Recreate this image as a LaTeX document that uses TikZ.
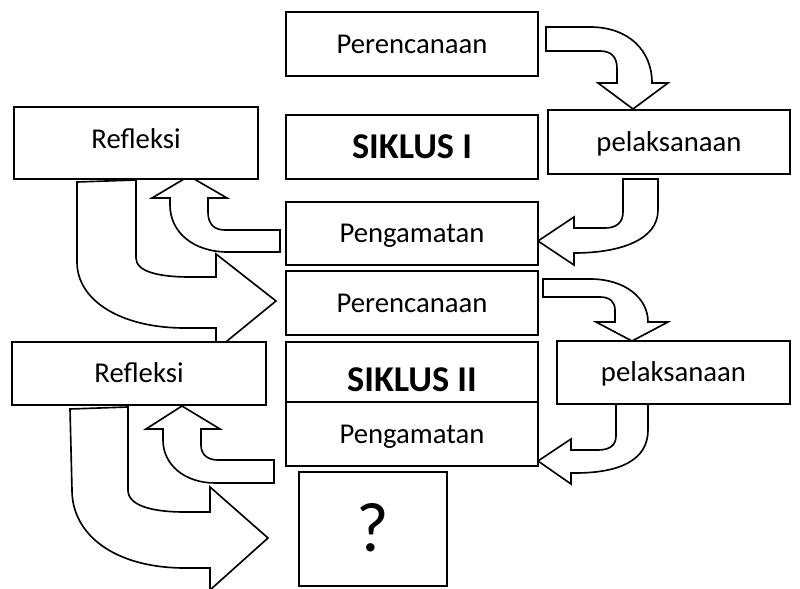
\documentclass[tikz,border=0pt]{standalone}
\usepackage{fontspec}
\setmainfont{Carlito}
\begin{document}
\begin{tikzpicture}[x=0.03cm,y=-0.03cm,
  box/.style={draw=black, fill=white, line width=1.4pt, inner sep=0pt,
    font=\fontsize{24.5}{28}\selectfont, text depth=0pt, text height=15.8pt},
  boldtxt/.style={font=\fontsize{31}{36}\selectfont\bfseries, text height=20pt},
  arr/.style={draw=black, fill=white, line width=1.4pt, line join=miter}]
\useasboundingbox (0,0) rectangle (800,589);
\clip (0,0) rectangle (800,589);
\fill[white] (0,0) rectangle (800,589);

% Arrow A: Perencanaan -> pelaksanaan (cycle I)
\draw[arr] (546,27) -- (590,27) .. controls (628,27) and (652,50) .. (652,83)
  -- (668,83) -- (633,109) -- (598,83) -- (617,83) -- (617,68)
  .. controls (617,57) and (611,51) .. (600,51) -- (546,51) -- cycle;
% Arrow B: pelaksanaan -> Pengamatan
\draw[arr] (623,179) -- (658,179) -- (658,210) .. controls (658,240) and (620,253) .. (574,253)
  -- (574,265) -- (538,241) -- (574,217) -- (574,228) -- (605,228)
  .. controls (617,228) and (623,222) .. (623,212) -- cycle;
% Arrow C: Pengamatan -> Refleksi
\draw[arr] (280,230) -- (280,252) -- (228,252) .. controls (193,252) and (170,232) .. (170,205)
  -- (170,198) -- (152,198) -- (189,176) -- (227,198) -- (208,198) -- (208,212)
  .. controls (208,224) and (214,230) .. (225,230) -- cycle;
% Arrow D: Refleksi -> Perencanaan (cycle II)
\draw[arr] (77,182) -- (136,180) -- (136,258) .. controls (136,272) and (160,277) .. (190,277)
  -- (216,277) -- (216,254) -- (276,301) -- (216,350) -- (216,328) -- (185,328)
  .. controls (120,328) and (77,300) .. (77,262) -- cycle;
% Arrow E: Perencanaan -> pelaksanaan (cycle II)
\draw[arr] (543,279) -- (590,279) .. controls (625,279) and (648,298) .. (648,322)
  -- (668,322) -- (632,341) -- (596,322) -- (615,322) -- (615,310)
  .. controls (615,302) and (610,297) .. (600,297) -- (543,297) -- cycle;
% Arrow F: pelaksanaan -> Pengamatan (cycle II)
\draw[arr] (616,404) -- (648,404) -- (648,430) .. controls (648,460) and (620,473) .. (575,473)
  -- (571,473) -- (571,484) -- (538,461) -- (571,439) -- (571,450) -- (598,450)
  .. controls (610,450) and (616,445) .. (616,436) -- cycle;
% Arrow G: Pengamatan -> Refleksi (cycle II)
\draw[arr] (274,460) -- (274,483) -- (215,483) .. controls (185,483) and (163,465) .. (163,440)
  -- (163,429) -- (146,429) -- (182,406) -- (220,429) -- (201,429) -- (201,445)
  .. controls (201,455) and (208,460) .. (218,460) -- cycle;
% Arrow H: Refleksi -> ?
\draw[arr] (70,409) -- (128,407) -- (128,490) .. controls (128,505) and (150,512) .. (185,512)
  -- (210,512) -- (210,487) -- (268,538) -- (210,590) -- (210,568) -- (185,568)
  .. controls (115,568) and (72,535) .. (72,490) -- cycle;

% Boxes
\node[box, minimum width=7.56cm, minimum height=1.92cm] (per1) at (412,44) {Perencanaan};
\node[box, boldtxt, minimum width=7.56cm, minimum height=1.92cm] (sik1) at (412,147) {SIKLUS I};
\node[box, minimum width=7.56cm, minimum height=1.89cm] (pen1) at (412,233.5) {Pengamatan};
\node[box, minimum width=7.56cm, minimum height=1.92cm] (per2) at (412,303) {Perencanaan};
\node[box, boldtxt, text height=34pt, minimum width=7.56cm, minimum height=1.8cm] (sik2) at (412,372) {SIKLUS II};
\node[box, minimum width=7.56cm, minimum height=1.92cm] (pen2) at (412,434) {Pengamatan};
\node[box, text depth=7pt, minimum width=7.32cm, minimum height=2.16cm] (ref1) at (136,143) {Refleksi};
\node[box, minimum width=7.62cm, minimum height=1.89cm] (ref2) at (139,373.5) {Refleksi};
\node[box, minimum width=7.26cm, minimum height=1.92cm] (pel1) at (669,142) {pelaksanaan};
\node[box, minimum width=6.99cm, minimum height=1.89cm] (pel2) at (673.5,372.5) {pelaksanaan};
\node[box, font=\fontsize{60}{66}\selectfont, text height=38pt, minimum width=4.44cm, minimum height=3.42cm] (q) at (373,529) {?};
\end{tikzpicture}
\end{document}
